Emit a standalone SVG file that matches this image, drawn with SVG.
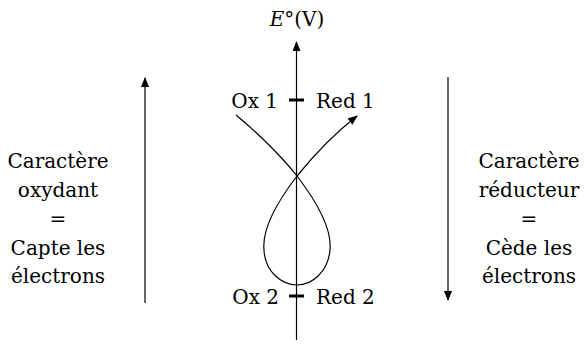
<svg xmlns="http://www.w3.org/2000/svg" width="585" height="344" viewBox="0 0 585 344">
<style>
text{font-family:"DejaVu Serif","Liberation Serif",serif;font-size:20px;fill:#000}
.c{text-anchor:middle}
.e{text-anchor:end}
.ln{fill:none;stroke:#000;stroke-width:1.2}
.tk{stroke:#000;stroke-width:3}
</style>
<defs>
<marker id="ah" viewBox="0 0 10 8" refX="9" refY="4" markerWidth="10" markerHeight="8" markerUnits="userSpaceOnUse" orient="auto">
<path d="M0,0 L10,4 L0,8 Z" fill="#000"/>
</marker>
</defs>
<g id="axis">
<line class="ln" x1="296.5" y1="340" x2="296.5" y2="42" marker-end="url(#ah)"/>
<text class="c" x="297" y="26"><tspan font-style="italic">E</tspan>°(V)</text>
</g>
<g id="couple1">
<line class="tk" x1="289" y1="100" x2="304" y2="100"/>
<text class="e" x="278" y="108">Ox 1</text>
<text x="316" y="108">Red 1</text>
</g>
<g id="couple2">
<line class="tk" x1="289" y1="296" x2="304" y2="296"/>
<text class="e" x="279" y="304">Ox 2</text>
<text x="316" y="304">Red 2</text>
</g>
<g id="connectors">
<path class="ln" d="M236,115 C258,133 283,158 297,176 C320,206 332,230 330,250 C328,272 312,285 297,285 C282,285 265,272 264,250 C262,230 274,206 297,176 C310,160 330,137 357,116" marker-end="url(#ah)"/>
<line class="ln" x1="145" y1="303" x2="145" y2="78" marker-end="url(#ah)"/>
<line class="ln" x1="448" y1="77" x2="448" y2="300" marker-end="url(#ah)"/>
</g>
<g id="left-label">
<text class="c" x="58" y="168">Caractère</text>
<text class="c" x="58" y="197">oxydant</text>
<text class="c" x="58" y="226">=</text>
<text class="c" x="58" y="255">Capte les</text>
<text class="c" x="58" y="283">électrons</text>
</g>
<g id="right-label">
<text class="c" x="529" y="168">Caractère</text>
<text class="c" x="529" y="197">réducteur</text>
<text class="c" x="529" y="226">=</text>
<text class="c" x="529" y="255">Cède les</text>
<text class="c" x="529" y="283">électrons</text>
</g>
</svg>
